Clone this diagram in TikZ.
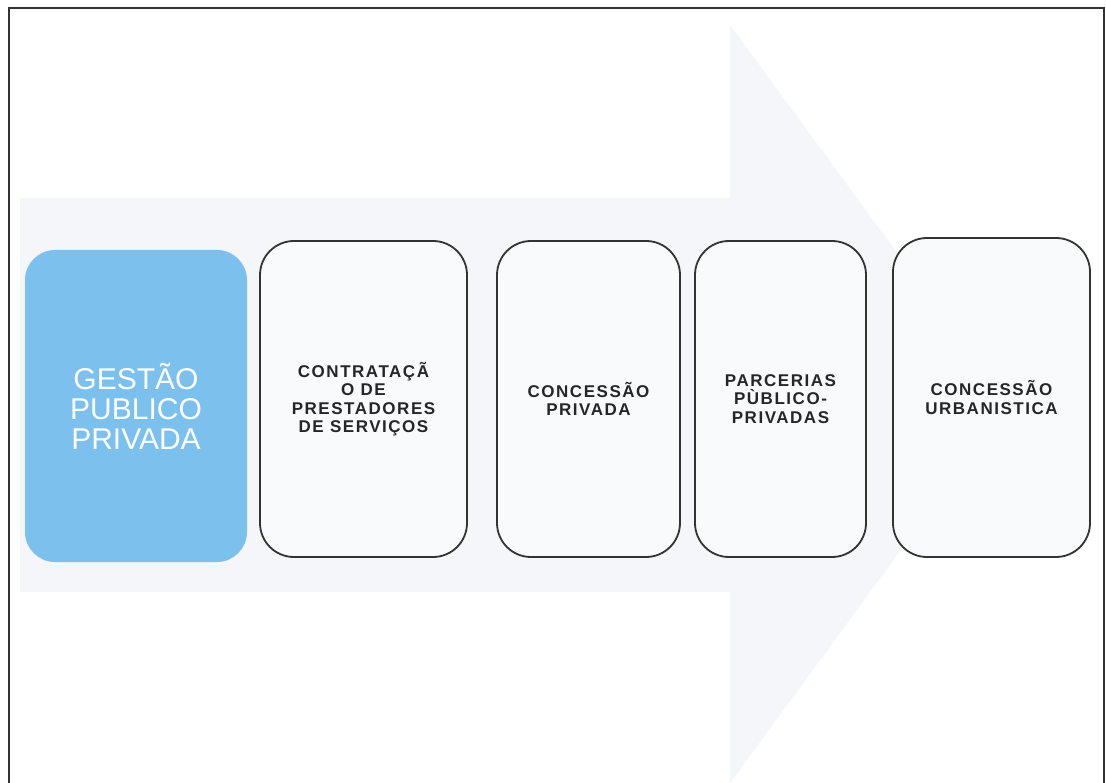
\documentclass[tikz,border=0pt]{standalone}
\usepackage{fontspec}
\setmainfont{Liberation Sans}
\newfontfamily\boxfont{Liberation Sans}[LetterSpace=9]
\usepackage{xcolor}
\usepackage{tikz}
\usetikzlibrary{positioning}
\definecolor{framegray}{HTML}{333333}
\definecolor{arrowtint}{HTML}{F4F6F9}
\definecolor{boxtint}{HTML}{F9FAFC}
\definecolor{gestaoblue}{HTML}{7CC0EE}
\definecolor{boxtext}{HTML}{262626}

\begin{document}
\begin{tikzpicture}[x=1pt, y=-1pt,
        every node/.style={inner sep=2pt, align=center},
        etapa/.style={draw=framegray, line width=1.8pt, fill=boxtint, rounded corners=34pt,
            minimum height=316pt, text=boxtext,
            font=\boxfont\bfseries\fontsize{17}{18.5}\selectfont},
        gestao/.style={fill=gestaoblue, rounded corners=30pt, minimum width=222pt,
            minimum height=312pt, text=white, font=\fontsize{30}{30}\selectfont}]
        \useasboundingbox (0,0) rectangle (1106,783);
        % seta de fundo
        \fill[arrowtint] (20,198) -- (730,198) -- (730,25) -- (1008,404)
            -- (730,783) -- (730,592) -- (20,592) -- cycle;
        % moldura
        \draw[framegray, line width=1.8pt] (9,783) -- (9,8) -- (1104,8) -- (1104,783);

        \node[gestao] (gpp) at (136,406) {GESTÃO\\PUBLICO\\PRIVADA};
        \node[etapa, minimum width=207pt] (cps) at (363.5,399) {CONTRATAÇÃ\\O DE\\PRESTADORES\\DE SERVIÇOS};
        \node[etapa, minimum width=183pt] (cpr) at (588.5,399) {CONCESSÃO\\PRIVADA};
        \node[etapa, minimum width=171pt] (ppp) at (780.5,399) {PARCERIAS\\PÙBLICO-\\PRIVADAS};
        \node[etapa, minimum width=197pt, minimum height=319pt] (cur) at (991.5,397.5) {CONCESSÃO\\URBANISTICA};
    \end{tikzpicture}
\end{document}
